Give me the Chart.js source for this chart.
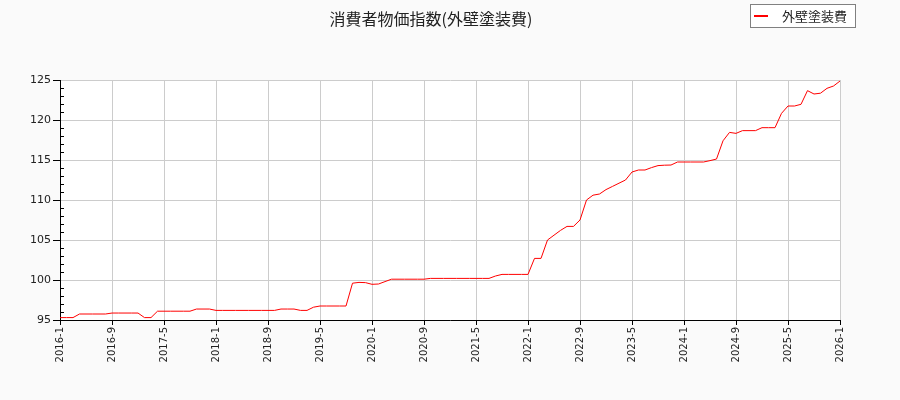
<!DOCTYPE html>
<html>
<head>
<meta charset="utf-8">
<script src="https://cdn.jsdelivr.net/npm/chart.js@4"></script>
<style>
  body { margin: 0; background: #fafafa; }
  #chart { display: block; }
</style>
</head>
<body>
<canvas id="chart" width="900" height="400"></canvas>
<script>
// monthly index, 2016-1 .. 2026-1 (121 months)
const seriesName = "外壁塗装費";
const chartTitle = "消費者物価指数(外壁塗装費)";

const tickLabels = [
  "2016-1", "2016-9", "2017-5", "2018-1", "2018-9", "2019-5", "2020-1", "2020-9",
  "2021-5", "2022-1", "2022-9", "2023-5", "2024-1", "2024-9", "2025-5", "2026-1"
];

const values = [
  // 2016
  95.3, 95.3, 95.3, 95.75, 95.75, 95.75, 95.75, 95.75, 95.87, 95.87, 95.87, 95.87,
  // 2017
  95.87, 95.3, 95.3, 96.1, 96.1, 96.1, 96.1, 96.1, 96.1, 96.37, 96.37, 96.37,
  // 2018
  96.2, 96.2, 96.2, 96.2, 96.2, 96.2, 96.2, 96.2, 96.2, 96.2, 96.37, 96.37,
  // 2019
  96.37, 96.2, 96.2, 96.6, 96.75, 96.75, 96.75, 96.75, 96.75, 99.6, 99.7, 99.67,
  // 2020
  99.46, 99.5, 99.8, 100.1, 100.1, 100.1, 100.1, 100.1, 100.1, 100.2, 100.2, 100.2,
  // 2021
  100.2, 100.2, 100.2, 100.2, 100.2, 100.2, 100.2, 100.5, 100.7, 100.7, 100.7, 100.7,
  // 2022
  100.7, 102.7, 102.7, 105.0, 105.6, 106.2, 106.7, 106.7, 107.5, 110.0, 110.6, 110.75,
  // 2023
  111.3, 111.7, 112.1, 112.5, 113.5, 113.75, 113.75, 114.05, 114.3, 114.35, 114.37, 114.75,
  // 2024
  114.75, 114.75, 114.75, 114.75, 114.92, 115.12, 117.4, 118.45, 118.33, 118.67, 118.67, 118.67,
  // 2025
  119.04, 119.04, 119.04, 120.83, 121.75, 121.75, 121.96, 123.67, 123.25, 123.35, 123.96, 124.25,
  // 2026
  124.87
];

const yMin = 95;
const yMax = 125;

// white plot area, minor ticks, title and boxed legend
const decorations = {
  id: "decorations",
  beforeDraw(chart) {
    const { ctx, chartArea: a } = chart;
    ctx.save();
    ctx.fillStyle = "#fafafa";
    ctx.fillRect(0, 0, chart.width, chart.height);
    ctx.fillStyle = "#ffffff";
    ctx.fillRect(a.left, a.top, a.right - a.left, a.bottom - a.top);
    ctx.restore();
  },
  afterDraw(chart) {
    const { ctx, chartArea: a } = chart;
    const y = chart.scales.y;
    ctx.save();
    ctx.strokeStyle = "#000";
    ctx.lineWidth = 1;
    ctx.beginPath();
    for (let v = yMin; v <= yMax; v++) {
      if (v % 5 === 0) continue;
      const py = Math.round(y.getPixelForValue(v)) + 0.5;
      ctx.moveTo(a.left, py);
      ctx.lineTo(a.left + 4, py);
    }
    ctx.stroke();

    // title
    ctx.fillStyle = "#222";
    ctx.font = "16px 'Noto Sans CJK JP'";
    ctx.textAlign = "center";
    ctx.textBaseline = "middle";
    ctx.fillText(chartTitle, 431, 19);

    // legend
    ctx.fillStyle = "#ffffff";
    ctx.fillRect(750.5, 4.5, 105, 23);
    ctx.strokeStyle = "#808080";
    ctx.strokeRect(750.5, 4.5, 105, 23);
    ctx.strokeStyle = "#ff0000";
    ctx.lineWidth = 2;
    ctx.beginPath();
    ctx.moveTo(754, 16);
    ctx.lineTo(768, 16);
    ctx.stroke();
    ctx.fillStyle = "#222";
    ctx.font = "13px 'Noto Sans CJK JP'";
    ctx.textAlign = "left";
    ctx.fillText(seriesName, 782, 16);
    ctx.restore();
  }
};

new Chart(document.getElementById("chart"), {
  type: "line",
  data: {
    datasets: [{
      label: seriesName,
      data: values.map((v, i) => ({ x: i, y: v })),
      borderColor: "#ff0000",
      borderWidth: 1,
      pointRadius: 0,
      tension: 0,
      fill: false
    }]
  },
  options: {
    responsive: false,
    devicePixelRatio: 1,
    animation: false,
    layout: { padding: { top: 80, right: 60, left: 0, bottom: 0 } },
    plugins: {
      legend: { display: false },
      title: { display: false },
      tooltip: { enabled: false }
    },
    scales: {
      x: {
        type: "linear",
        min: 0,
        max: 120,
        afterFit(scale) { scale.height = 80; },
        grid: { color: "#cccccc", tickColor: "#000", tickLength: 5 },
        border: { color: "#000" },
        ticks: {
          stepSize: 8,
          autoSkip: false,
          maxRotation: 90,
          minRotation: 90,
          padding: 2,
          color: "#222",
          font: { family: "DejaVu Sans", size: 10 },
          callback: (v) => tickLabels[v / 8]
        }
      },
      y: {
        min: yMin,
        max: yMax,
        afterFit(scale) { scale.width = 60; },
        grid: { color: "#cccccc", tickColor: "#000", tickLength: 7 },
        border: { color: "#000" },
        ticks: {
          stepSize: 5,
          padding: 2,
          color: "#222",
          font: { family: "DejaVu Sans", size: 11 }
        }
      }
    }
  },
  plugins: [decorations]
});
</script>
</body>
</html>
